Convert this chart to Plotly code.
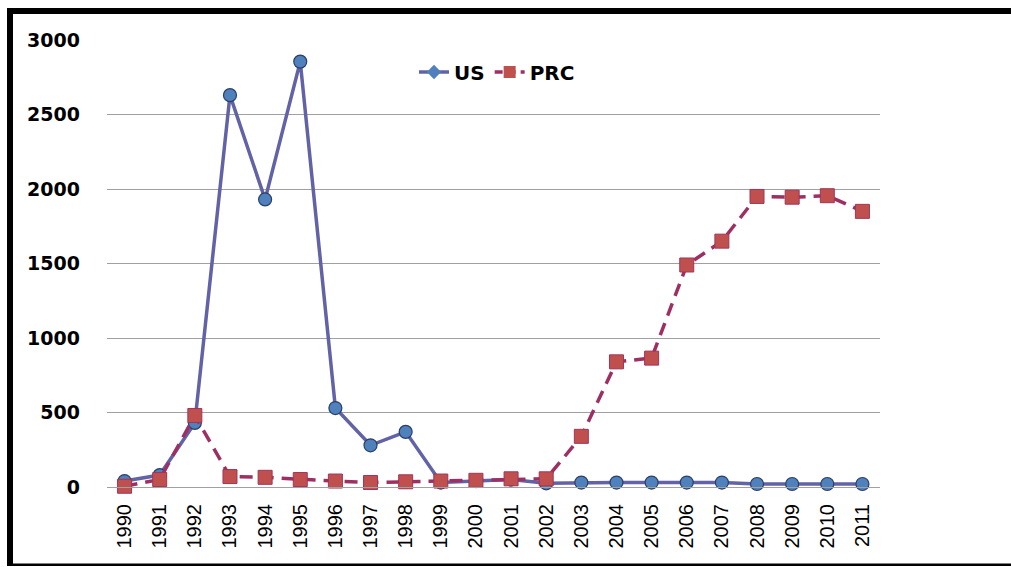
import plotly.graph_objects as go

years = [str(y) for y in range(1990, 2012)]
us = [40, 80, 430, 2630, 1930, 2855, 530, 280, 370, 30, 40, 50, 25, 30, 30, 30, 30, 30, 20, 20, 20, 20]
prc = [5, 50, 480, 70, 65, 50, 40, 30, 35, 40, 45, 55, 55, 340, 840, 865, 1490, 1650, 1950, 1945, 1955, 1850]
y_ticks = [0, 500, 1000, 1500, 2000, 2500, 3000]

W, H = 1011, 567
L, R, T, B = 107, 131, 40, 80
pw, ph = W - L - R, H - T - B


def px_x(p):
    return (p - L) / pw


def px_y(p):
    return (H - B - p) / ph


US_LINE = "#6262A6"
US_MK = "#4F81BD"
PRC_LINE = "#9E2F63"
PRC_MK = "#C0504D"

fig = go.Figure()
fig.add_trace(go.Scatter(
    x=years, y=us, name="US", mode="lines+markers", showlegend=False,
    line=dict(color=US_LINE, width=3.5),
    marker=dict(symbol="circle", size=13, color=US_MK, line=dict(color="#2C3E66", width=1.2)),
    cliponaxis=False,
))
fig.add_trace(go.Scatter(
    x=years, y=prc, name="PRC", mode="lines+markers", showlegend=False,
    line=dict(color=PRC_LINE, width=3.5, dash="13px,8px"),
    marker=dict(symbol="square", size=14, color=PRC_MK, line=dict(color="#A0355A", width=1)),
    cliponaxis=False,
))
# legend entries (Excel-style legend symbols)
fig.add_trace(go.Scatter(
    x=[None], y=[None], name="US", mode="lines+markers",
    line=dict(color=US_LINE, width=3.5),
    marker=dict(symbol="diamond", size=11, color=US_MK),
))
fig.add_trace(go.Scatter(
    x=[None], y=[None], name="PRC", mode="lines+markers",
    line=dict(color=PRC_LINE, width=3.5, dash="8px,5px"),
    marker=dict(symbol="square", size=12, color=PRC_MK),
))

shapes = [
    dict(type="rect", xref="paper", yref="paper", x0=px_x(7), x1=px_x(1011), y0=px_y(14), y1=px_y(8),
         fillcolor="black", line=dict(width=0), layer="above"),
    dict(type="rect", xref="paper", yref="paper", x0=px_x(7), x1=px_x(13), y0=px_y(566), y1=px_y(8),
         fillcolor="black", line=dict(width=0), layer="above"),
    dict(type="rect", xref="paper", yref="paper", x0=px_x(7), x1=px_x(1011), y0=px_y(566), y1=px_y(563.5),
         fillcolor="black", line=dict(width=0), layer="above"),
]

fig.update_layout(
    width=W, height=H,
    margin=dict(l=L, r=R, t=T, b=B, pad=0),
    paper_bgcolor="white", plot_bgcolor="white",
    showlegend=True,
    legend=dict(orientation="h", x=px_x(414), y=px_y(72), xanchor="left", yanchor="middle",
                font=dict(family="DejaVu Sans, Liberation Sans, Arial", size=20, color="black", weight="bold"),
                bgcolor="rgba(0,0,0,0)", itemwidth=30, tracegroupgap=0),
    shapes=shapes,
    xaxis=dict(type="category", range=[-0.5, 21.5], showgrid=False, showline=True, linecolor="#A0A0A0",
               linewidth=1, tickangle=-90, ticks="", ticklabelstandoff=8,
               tickfont=dict(family="Liberation Sans, Arial", size=20, color="black"), zeroline=False),
    yaxis=dict(range=[0, 3000], tickvals=y_ticks, showgrid=True, gridcolor="#A0A0A0", gridwidth=1,
               showline=False, zeroline=False, ticks="", ticklabelstandoff=26,
               tickfont=dict(family="DejaVu Sans, Liberation Sans, Arial", size=19, color="black", weight="bold")),
)

fig.write_html("out.html", config={"displayModeBar": False},
               post_script="document.body.style.margin='0';document.body.style.overflow='hidden';")
